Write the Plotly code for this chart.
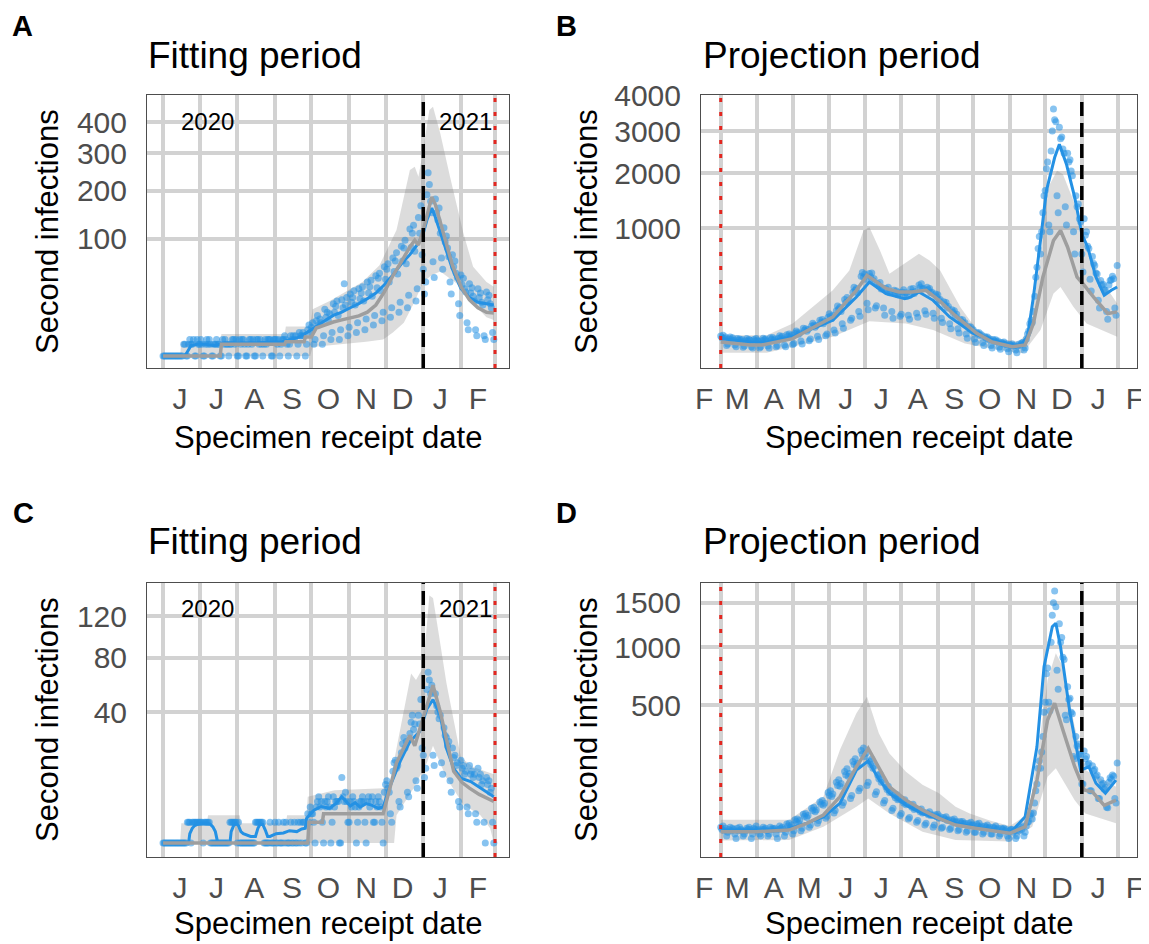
import numpy as np
import pandas as pd
import plotly.graph_objects as go

# ---------------------------------------------------------------- data
# Panels A / C : fitting period (daily dots from 2020-06-01, Mon..Sun rows)
A_start = "2020-06-01"
A_dots_weeks = [
    [0,0,0,0,0,0,0],[0,0,0,0,0,0,0],[0,0,0,1,1,0,0],[1,2,1,1,2,0,0],
    [2,1,1,2,1,0,0],[1,2,1,2,1,0,0],[1,1,2,1,1,0,0],[2,1,2,1,1,0,1],
    [1,2,2,1,2,0,0],[2,1,2,2,1,0,0],[1,2,2,1,2,0,0],[2,2,1,2,1,0,1],
    [2,1,2,2,2,0,0],[2,2,2,1,2,0,1],[2,2,3,2,1,0,1],[3,2,3,2,3,0,1],
    [4,3,3,4,3,0,1],[5,7,4,6,8,1,2],[9,12,7,10,8,1,3],[16,11,14,9,13,2,4],
    [20,14,18,22,12,2,5],[23,17,38,19,25,3,6],[28,21,25,31,19,4,8],[33,24,29,35,22,5,10],
    [40,29,35,42,26,7,12],[47,34,44,50,31,9,14],[58,43,55,62,40,11,17],[70,52,66,78,49,14,21],
    [88,66,85,98,62,17,27],[118,86,110,125,80,22,33],[140,110,165,75,55,28,40],
    [190,245,215,175,150,65,45],[180,150,135,160,110,70,55],[120,95,105,85,72,40,28],
    [75,58,66,50,45,20,12],[48,37,44,33,30,8,5],[38,29,34,26,22,5,3],
    [33,25,29,21,19,3,2],[30,23,27,20,17,4,2],
]
A_blue_dates = ["2020-06-01","2020-06-19","2020-06-24","2020-06-29","2020-07-06","2020-07-13",
    "2020-07-20","2020-07-27","2020-08-03","2020-08-10","2020-08-17","2020-08-24","2020-08-31",
    "2020-09-07","2020-09-14","2020-09-21","2020-09-28","2020-10-05","2020-10-12","2020-10-19",
    "2020-10-26","2020-11-02","2020-11-09","2020-11-16","2020-11-23","2020-11-30","2020-12-07",
    "2020-12-14","2020-12-21","2020-12-28","2021-01-01","2021-01-04","2021-01-08","2021-01-11",
    "2021-01-18","2021-01-25","2021-02-01","2021-02-08","2021-02-15","2021-02-22","2021-02-28"]
A_blue_vals = [0,0,0.8,1.0,1.0,0.8,1.1,1.2,1.2,1.2,1.3,1.3,1.4,1.5,2.0,2.6,4.2,6.5,9,12,14,17,20,
    24,29,37,48,62,75,93,110,135,160,140,92,55,33,25,21,20,19]
A_gray_dates = ["2020-06-01","2020-07-18","2020-07-19","2020-09-09","2020-09-10","2020-09-25",
    "2020-09-26","2020-10-01","2020-10-05","2020-10-12","2020-10-19","2020-10-26","2020-11-02",
    "2020-11-09","2020-11-16","2020-11-23","2020-11-30","2020-12-07","2020-12-14","2020-12-21",
    "2020-12-25","2020-12-28","2021-01-01","2021-01-04","2021-01-08","2021-01-11","2021-01-18",
    "2021-01-25","2021-02-01","2021-02-08","2021-02-15","2021-02-22","2021-02-28"]
A_gray_vals = [0,0,1,1,1.5,1.5,2.6,2.6,5.7,7,8.4,9.5,10.5,11.7,14,19,30,47,65,87,98,90,116,145,
    185,167,107,60,35,23,17,14,13.5]
A_up_dates = ["2020-06-01","2020-06-15","2020-06-16","2020-07-18","2020-07-19","2020-09-09",
    "2020-09-10","2020-09-30","2020-10-02","2020-10-16","2020-11-12","2020-11-26","2020-12-10",
    "2020-12-21","2020-12-25","2020-12-28","2020-12-31","2021-01-06","2021-01-09","2021-01-15",
    "2021-01-23","2021-02-03","2021-02-11","2021-02-22","2021-02-28"]
A_up_vals = [0,0,1.5,1.5,3.5,3.5,6.3,6.3,16,22,40,60,116,253,262,235,290,442,454,362,235,110,
    58,40,35]
A_lo_dates = ["2020-06-01","2020-09-30","2020-10-02","2020-10-22","2020-11-15","2020-11-29",
    "2020-12-07","2020-12-16","2020-12-24","2021-01-01","2021-01-08","2021-01-15","2021-01-22",
    "2021-01-28","2021-02-11","2021-02-22","2021-02-28"]
A_lo_vals = [0,0,0.6,1,1.5,2,4,8,20,40,48,52,45,39,20,11,9.5]

C_dots_weeks = [
    [0,0,0,0,0,0,0],[0,0,0,0,0,0,0],[0,0,0,0,0,0,1],[1,1,0,1,1,1,1],
    [1,1,1,1,1,0,1],[1,1,1,1,0,0,0],[0,0,0,0,0,0,0],[0,0,0,0,0,0,1],
    [1,1,1,1,1,0,1],[0,0,0,0,0,0,0],[0,0,0,0,0,0,1],[1,1,1,1,1,1,0],
    [0,0,0,0,1,0,0],[0,1,0,0,1,0,0],[0,1,0,1,0,0,0],[1,0,0,1,0,0,1],
    [0,1,0,1,1,0,0],[2,1,3,2,2,1,0],[3,4,5,3,4,1,0],[4,3,4,5,3,0,1],
    [5,3,4,4,4,0,0],[10,5,4,6,4,1,1],[4,3,5,4,3,0,1],[3,4,4,5,4,1,0],
    [4,5,3,4,5,1,1],[4,3,5,4,3,1,0],[6,8,9,7,6,2,1],[12,15,16,13,14,4,3],
    [19,23,26,21,24,6,5],[28,34,38,30,33,9,7],[38,33,48,21,18,10,13],
    [55,68,62,52,58,18,14],[52,44,40,36,38,15,11],[31,27,26,22,24,9,6],
    [21,17,18,14,15,4,3],[16,13,14,11,12,3,2],[14,11,12,10,11,2,1],
    [13,10,11,8,9,1,0],[10,8,9,6,7,1,0],
]
C_blue_dates = ["2020-06-01","2020-06-22","2020-06-23","2020-06-25","2020-06-27","2020-06-30",
    "2020-07-03","2020-07-07","2020-07-10","2020-07-12","2020-07-14","2020-07-16","2020-07-26",
    "2020-07-27","2020-07-29","2020-07-31","2020-08-02","2020-08-04","2020-08-06","2020-08-12",
    "2020-08-16","2020-08-18","2020-08-20","2020-08-22","2020-08-24","2020-08-26","2020-08-28",
    "2020-09-02","2020-09-08","2020-09-13","2020-09-19","2020-09-23","2020-09-26",
    "2020-09-27","2020-10-03","2020-10-09","2020-10-16","2020-10-21","2020-10-26","2020-11-02",
    "2020-11-06","2020-11-10","2020-11-15","2020-11-20","2020-11-25","2020-11-29","2020-12-04",
    "2020-12-13","2020-12-21","2020-12-29","2021-01-04","2021-01-09","2021-01-15","2021-01-20",
    "2021-01-26","2021-02-01","2021-02-09","2021-02-17","2021-02-25","2021-02-28"]
C_blue_vals = [0,0,0.2,0.5,0.7,0.85,0.9,0.9,0.8,0.6,0.3,0,0,0.3,0.7,0.9,0.7,0.3,0.2,0.1,
    0.1,0.5,0.85,0.8,0.4,0.1,0.1,0.2,0.23,0.35,0.3,0.45,0.5,
    1.4,2.5,3.1,2.8,3.6,5.0,3.2,3.8,3.0,3.6,3.3,2.8,3.0,7,15.5,24,29,42,48,38,21,13,9.8,8.8,7,5.4,
    5.0]
C_gray_dates = ["2020-06-01","2020-09-28","2020-09-29","2020-10-10","2020-10-11","2020-11-29",
    "2020-12-10","2020-12-21","2020-12-25","2020-12-31","2021-01-09","2021-01-15","2021-01-21",
    "2021-01-26","2021-02-02","2021-02-08","2021-02-16","2021-02-28"]
C_gray_vals = [0,0,1,1,2,2,15,27,22,34,58,40,22,12,8.5,7,5.5,4]
C_up_dates = ["2020-06-01","2020-06-15","2020-06-16","2020-07-07","2020-07-08","2020-08-03",
    "2020-08-04","2020-09-10","2020-09-11","2020-09-27","2020-09-28","2020-10-20","2020-11-29",
    "2020-12-05","2020-12-13","2020-12-22","2020-12-26","2021-01-01","2021-01-06","2021-01-09",
    "2021-01-14","2021-01-20","2021-02-01","2021-02-11","2021-02-28"]
C_up_vals = [0,0,0.9,0.9,1.8,1.8,0.9,0.9,1.8,1.8,5,6.5,7,9.3,30,67,62,72,143,140,100,60,17,
    13.5,11]
C_lo_dates = ["2020-06-01","2020-12-08","2020-12-10","2020-12-24","2021-01-04","2021-01-09",
    "2021-01-20","2021-02-03","2021-02-17","2021-02-25","2021-02-28"]
C_lo_vals = [0,0,1.8,7,15,22,9.9,3.4,1.8,0.5,0]

# Panels B / D : projection period (daily dots from 2021-03-01, Mon..Sun rows)
B_start = "2021-03-01"
B_dots_weeks = [
    [36,31,38,29,33,14,17],[28,33,26,31,25,15,12],[29,25,28,24,27,11,13],[24,29,23,27,25,12,10],
    [27,23,29,25,22,10,12],[24,30,26,28,23,13,10],[31,27,32,25,28,12,14],[30,37,31,35,28,15,12],
    [40,35,42,34,38,16,18],[44,52,47,41,45,23,17],[62,54,60,51,57,24,28],[70,82,74,65,72,35,27],
    [95,86,99,80,89,37,42],[110,128,115,104,120,55,45],[145,172,155,165,140,80,62],
    [215,195,230,200,212,95,105],[270,310,285,300,265,140,115],[410,445,400,430,380,190,150],
    [435,405,440,370,385,160,175],[340,320,350,295,305,160,120],[300,280,310,265,270,140,105],
    [285,260,280,250,265,115,125],[270,290,255,265,240,120,100],[295,270,300,260,275,130,110],
    [330,310,340,295,300,145,125],[310,290,300,265,270,130,105],[255,235,250,210,215,105,85],
    [200,180,195,160,170,80,60],[150,135,145,115,125,60,45],[100,88,98,80,84,42,30],
    [68,60,66,53,56,28,20],[47,42,46,37,40,20,14],[34,30,33,26,28,14,10],[27,23,26,21,23,11,8],
    [20,18,21,16,17,9,5],[16,14,17,13,14,7,4],[13,17,15,19,20,7,10],[28,42,52,80,95,85,140],
    [240,400,500,720,880,650,950],[1250,1550,1650,2100,2250,1050,950],
    [2500,3000,3600,3300,3250,1550,1250],[3100,2800,2850,2550,2450,1350,1050],
    [2450,2250,2300,2050,1950,950,650],[1550,1350,1400,1150,1100,650,450],
    [1150,900,950,750,720,380,280],[620,540,520,440,430,210,160],[370,330,335,290,285,140,100],
    [330,370,375,410,385,160,120],[520],
]
B_blue_dates = ["2021-03-01","2021-03-26","2021-04-09","2021-05-01","2021-06-04","2021-06-24",
    "2021-07-05","2021-07-19","2021-08-04","2021-08-09","2021-08-16","2021-08-28","2021-09-11",
    "2021-10-01","2021-10-23","2021-11-09","2021-11-16","2021-11-21","2021-11-27","2021-12-02",
    "2021-12-09","2021-12-13","2021-12-19","2021-12-26","2022-01-01","2022-01-06","2022-01-13",
    "2022-01-20","2022-01-26","2022-01-31"]
B_blue_vals = [29,21,21,34,95,233,355,259,222,233,271,210,111,44,21,12,34,233,824,1645,2349,2665,
    2199,1520,919,736,400,246,285,312]
B_gray_dates = ["2021-03-01","2021-03-26","2021-04-05","2021-05-01","2021-06-04","2021-06-24",
    "2021-07-03","2021-07-19","2021-07-30","2021-08-10","2021-08-22","2021-09-02","2021-09-17",
    "2021-10-04","2021-10-17","2021-11-03","2021-11-14","2021-11-21","2021-11-29","2021-12-08",
    "2021-12-14","2021-12-20","2021-12-28","2022-01-02","2022-01-11","2022-01-23","2022-01-31"]
B_gray_vals = [21,15,15,29,111,285,417,301,271,271,285,210,111,44,21,12,15,81,400,824,967,736,
    400,340,233,129,138]
B_up_dates = ["2021-03-01","2021-04-09","2021-05-01","2021-06-04","2021-06-18","2021-06-30",
    "2021-07-05","2021-07-14","2021-07-22","2021-08-04","2021-08-16","2021-08-25","2021-09-03",
    "2021-09-20","2021-10-04","2021-10-23","2021-11-09","2021-11-18","2021-11-27","2021-12-02",
    "2021-12-11","2021-12-16","2021-12-25","2022-01-02","2022-01-16","2022-01-31"]
B_up_vals = [38,38,81,285,467,967,1016,695,434,538,654,575,467,167,55,28,22,55,613,1645,2054,
    1982,1458,919,400,188]
B_lo_dates = ["2021-03-01","2021-04-09","2021-05-01","2021-06-04","2021-07-05","2021-08-05",
    "2021-08-28","2021-09-24","2021-10-23","2021-11-12","2021-11-27","2021-12-08","2021-12-14",
    "2021-12-25","2022-01-05","2022-01-31"]
B_lo_vals = [4,4,12,34,90,81,55,18,7,3.5,55,259,312,167,81,34]

D_dots_weeks = [
    [8,6,9,5,7,2,4],[6,8,5,7,6,3,1],[7,5,8,6,5,2,3],[5,7,6,8,6,1,3],[7,6,9,5,6,3,2],
    [6,8,6,7,5,2,3],[8,6,7,6,7,3,1],[6,9,7,8,6,2,4],[11,9,12,8,10,3,5],[16,14,17,12,15,5,7],
    [24,21,25,19,22,8,10],[34,30,36,28,31,12,15],[47,42,50,40,44,18,21],[70,62,75,60,66,26,30],
    [100,90,108,88,96,40,46],[138,125,148,120,130,55,62],[178,165,190,160,170,75,82],
    [228,210,240,200,215,90,100],[180,165,188,150,160,65,72],[125,112,128,100,108,45,50],
    [86,78,88,70,74,30,34],[63,57,65,52,54,22,25],[50,45,52,41,44,17,19],[40,36,42,32,34,13,15],
    [32,28,33,26,27,10,12],[26,23,28,22,23,8,10],[23,20,24,18,20,7,8],[19,17,20,15,16,6,7],
    [16,14,17,13,14,5,6],[14,12,14,11,12,4,5],[12,10,13,10,10,4,4],[11,9,12,8,9,3,4],
    [9,8,10,7,8,3,3],[8,7,9,6,7,2,3],[7,6,7,5,6,2,1],[5,6,6,4,5,1,2],[6,5,8,6,9,2,4],
    [9,13,14,22,25,17,26],[45,75,95,150,180,150,220],[300,450,520,750,800,520,460],
    [1050,1350,1500,1650,1450,780,620],[1250,1050,1100,900,880,430,400],
    [640,540,550,450,440,200,190],[300,250,260,210,210,95,95],[225,190,200,165,170,75,75],
    [160,140,145,120,125,55,55],[108,92,96,80,84,36,35],[100,115,110,125,120,55,45],[171],
]
D_blue_dates = ["2021-03-01","2021-04-24","2021-05-13","2021-05-27","2021-06-10","2021-06-24",
    "2021-07-04","2021-07-13","2021-07-22","2021-08-05","2021-08-19","2021-09-02","2021-09-16",
    "2021-09-30","2021-10-15","2021-11-01","2021-11-14","2021-11-24","2021-11-30","2021-12-07",
    "2021-12-10","2021-12-14","2021-12-22","2021-12-31","2022-01-07","2022-01-13","2022-01-21",
    "2022-01-30"]
D_blue_vals = [5.6,5.6,12,20,44,143,180,110,68,40,25,17,12,8.4,6,3.4,20,246,812,1218,1256,1004,
    443,143,156,97,68,107]
D_gray_dates = ["2021-03-01","2021-03-31","2021-04-28","2021-05-13","2021-05-27","2021-06-10",
    "2021-06-24","2021-07-04","2021-07-11","2021-07-22","2021-08-05","2021-08-19","2021-09-02",
    "2021-09-16","2021-09-30","2021-11-01","2021-11-14","2021-11-24","2021-12-03","2021-12-09",
    "2021-12-16","2021-12-26","2022-01-03","2022-01-10","2022-01-20","2022-01-30"]
D_gray_vals = [4.4,4.4,5.6,11.8,22.7,59,156,238,170,86,51,31,18,10,7.5,3.4,8.4,107,399,513,337,
    156,77,72,40,51]
D_up_dates = ["2021-03-01","2021-04-28","2021-05-27","2021-06-10","2021-06-24","2021-07-03",
    "2021-07-13","2021-07-22","2021-08-05","2021-08-19","2021-09-02","2021-09-16","2021-09-28",
    "2021-10-15","2021-11-01","2021-11-17","2021-11-27","2021-12-03","2021-12-10","2021-12-16",
    "2021-12-26","2022-01-04","2022-01-30"]
D_up_vals = [16,16,59,230,443,561,318,214,137,92,68,37,25,15,9,25,318,695,939,812,357,143,86]
D_lo_dates = ["2021-03-01","2021-04-28","2021-05-27","2021-06-24","2021-07-04","2021-07-22",
    "2021-08-19","2021-09-16","2021-11-01","2021-11-20","2021-12-03","2021-12-10","2021-12-26",
    "2022-01-04","2022-01-30"]
D_lo_vals = [0.5,0.6,8.4,37,55,25,4.4,0.6,0.3,8.4,119,150,51,25,12]

# axis ticks
A_yticks = [100, 200, 300, 400]
B_yticks = [1000, 2000, 3000, 4000]
C_yticks = [40, 80, 120]
D_yticks = [500, 1000, 1500]
fit_month_labels = ["J", "J", "A", "S", "O", "N", "D", "J", "F"]
proj_month_labels = ["F", "M", "A", "M", "J", "J", "A", "S", "O", "N", "D", "J", "F"]

# ---------------------------------------------------------------- style
# the page body adds an 8 px margin, so the figure is drawn 8 px in from the corner
OX, OY = 8, 8
W, H = 1141, 936
FONT = "Liberation Sans, Arial, Helvetica, sans-serif"
BLUE = "rgb(36,145,228)"
DOT = "rgba(36,145,228,0.55)"
GRAYLINE = "rgb(158,158,158)"
BAND = "rgba(128,128,128,0.28)"
GRID = "#d2d2d2"
FRAME = "#4d4d4d"
TICKC = "#4d4d4d"


def px(x):
    return (x - OX) / W


def py(y):
    return 1 - (y - OY) / H


def sq(v):
    return np.sqrt(np.asarray(v, dtype=float))


fig = go.Figure()

panels = [
    dict(n="", start=A_start, dots=A_dots_weeks, blue=(A_blue_dates, A_blue_vals),
         gray=(A_gray_dates, A_gray_vals), up=(A_up_dates, A_up_vals), lo=(A_lo_dates, A_lo_vals),
         xpx=(147, 509), ypx=(95, 368), yr=(-1.03, 22.31), yt=A_yticks, fit=True),
    dict(n="2", start=B_start, dots=B_dots_weeks, blue=(B_blue_dates, B_blue_vals),
         gray=(B_gray_dates, B_gray_vals), up=(B_up_dates, B_up_vals), lo=(B_lo_dates, B_lo_vals),
         xpx=(701, 1137), ypx=(95, 368), yr=(-1.61, 63.35), yt=B_yticks, fit=False),
    dict(n="3", start=A_start, dots=C_dots_weeks, blue=(C_blue_dates, C_blue_vals),
         gray=(C_gray_dates, C_gray_vals), up=(C_up_dates, C_up_vals), lo=(C_lo_dates, C_lo_vals),
         xpx=(147, 509), ypx=(583, 857), yr=(-0.68, 12.56), yt=C_yticks, fit=True),
    dict(n="4", start=B_start, dots=D_dots_weeks, blue=(D_blue_dates, D_blue_vals),
         gray=(D_gray_dates, D_gray_vals), up=(D_up_dates, D_up_vals), lo=(D_lo_dates, D_lo_vals),
         xpx=(701, 1137), ypx=(583, 857), yr=(-1.95, 41.89), yt=D_yticks, fit=False),
]

layout_axes = {}
shapes = []
for p in panels:
    xa, ya = "x" + p["n"], "y" + p["n"]
    dots = sum(p["dots"], [])
    ddates = pd.date_range(p["start"], periods=len(dots), freq="D")
    up_d, up_v = p["up"]
    lo_d, lo_v = p["lo"]
    # uncertainty band
    fig.add_trace(go.Scatter(
        x=list(pd.to_datetime(up_d)) + list(pd.to_datetime(lo_d))[::-1],
        y=list(sq(up_v)) + list(sq(lo_v))[::-1],
        fill="toself", fillcolor=BAND, line=dict(width=0), mode="lines",
        hoverinfo="skip", showlegend=False, xaxis=xa, yaxis=ya))
    # observed daily counts
    fig.add_trace(go.Scatter(x=ddates, y=sq(dots), mode="markers",
                             marker=dict(size=7, color=DOT, line=dict(width=0)),
                             showlegend=False, xaxis=xa, yaxis=ya))
    # 7-day average
    fig.add_trace(go.Scatter(x=pd.to_datetime(p["blue"][0]), y=sq(p["blue"][1]), mode="lines",
                             line=dict(color=BLUE, width=3), showlegend=False,
                             xaxis=xa, yaxis=ya))
    # model median
    fig.add_trace(go.Scatter(x=pd.to_datetime(p["gray"][0]), y=sq(p["gray"][1]), mode="lines",
                             line=dict(color=GRAYLINE, width=3.5), showlegend=False,
                             xaxis=xa, yaxis=ya))

    if p["fit"]:
        xr = ["2020-05-18 19:00", "2021-03-12 12:00"]
        mid = pd.date_range("2020-06-01", periods=9, freq="MS") + pd.Timedelta(days=14)
        starts = pd.date_range("2020-06-01", periods=10, freq="MS")
        labels = fit_month_labels
        black_x, red_x = "2021-01-01", "2021-03-01"
    else:
        xr = ["2021-02-12 07:00", "2022-02-16 19:00"]
        mid = pd.date_range("2021-02-01", periods=13, freq="MS") + pd.Timedelta(days=14)
        starts = pd.date_range("2021-03-01", periods=12, freq="MS")
        labels = proj_month_labels
        black_x, red_x = "2022-01-01", "2021-03-01"

    xkey = "xaxis" + p["n"]
    ykey = "yaxis" + p["n"]
    layout_axes[xkey] = dict(
        type="date", range=xr, anchor=ya, automargin=False,
        domain=[px(p["xpx"][0]), px(p["xpx"][1])],
        tickmode="array", tickvals=list(mid), ticktext=labels,
        showgrid=False, zeroline=False,
        ticks="outside", ticklen=4, tickcolor="rgba(0,0,0,0)",
        tickfont=dict(family=FONT, size=30, color=TICKC),
        showline=True, mirror=True, linecolor=FRAME, linewidth=1,
        minor=dict(tickmode="array", tickvals=list(starts), showgrid=True,
                   gridcolor=GRID, gridwidth=3.5, ticks=""),
        fixedrange=True,
    )
    layout_axes[ykey] = dict(
        range=list(p["yr"]), anchor=xa, automargin=False,
        domain=[py(p["ypx"][1]), py(p["ypx"][0])],
        tickmode="array", tickvals=list(sq(p["yt"])), ticktext=[str(t) for t in p["yt"]],
        showgrid=True, gridcolor=GRID, gridwidth=3.5, zeroline=False,
        ticks="outside", ticklen=13, tickcolor="rgba(0,0,0,0)",
        tickfont=dict(family=FONT, size=30, color=TICKC),
        showline=True, mirror=True, linecolor=FRAME, linewidth=1,
        fixedrange=True,
    )
    shapes.append(dict(type="line", xref=xa, yref=ya + " domain", x0=black_x, x1=black_x,
                       y0=0, y1=1, layer="above",
                       line=dict(color="black", width=3.5, dash="14px,7px")))
    shapes.append(dict(type="line", xref=xa, yref=ya + " domain", x0=red_x, x1=red_x,
                       y0=0, y1=1, layer="above",
                       line=dict(color="#e3261f", width=3, dash="4px,10px")))

annotations = []


def ann(text, x, y, size, xanchor="left", bold=False, angle=0, color="black"):
    annotations.append(dict(
        text=("<b>%s</b>" % text) if bold else text, x=px(x), y=py(y),
        xref="paper", yref="paper", showarrow=False, xanchor=xanchor, yanchor="middle",
        textangle=angle, font=dict(family=FONT, size=size, color=color)))


for letter, lx, ly in [("A", 10, 26), ("B", 554, 26), ("C", 11, 513), ("D", 554, 513)]:
    ann(letter, lx, ly, 29, bold=True)
for title, tx, ty in [("Fitting period", 146, 55), ("Projection period", 701, 55),
                      ("Fitting period", 146, 541), ("Projection period", 701, 541)]:
    ann(title, tx, ty, 37)
for cx, cy in [(328, 438), (919, 438), (328, 923), (919, 923)]:
    ann("Specimen receipt date", cx, cy, 31, xanchor="center")
for cx, cy in [(47, 232), (586, 232), (47, 720), (586, 720)]:
    ann("Second infections", cx, cy, 31, xanchor="center", angle=-90)
for cy in (121, 608):
    ann("2020", 207, cy, 24, xanchor="center")
    ann("2021", 465, cy, 24, xanchor="center")

fig.update_layout(
    width=W, height=H, autosize=False,
    margin=dict(l=0, r=0, t=0, b=0),
    paper_bgcolor="white", plot_bgcolor="white",
    showlegend=False, shapes=shapes, annotations=annotations,
    **layout_axes,
)

fig.write_html("out.html")
